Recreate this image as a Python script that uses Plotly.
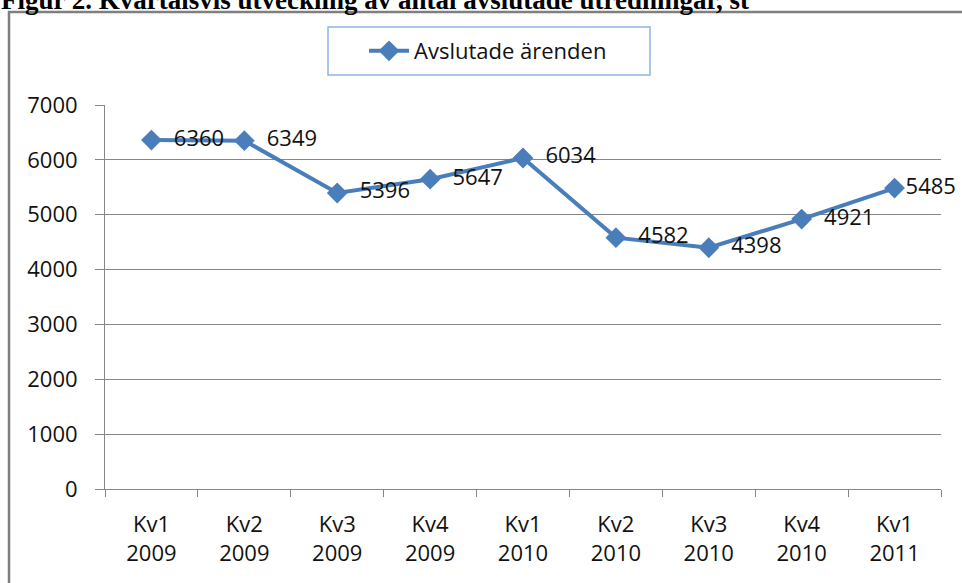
import plotly.graph_objects as go

quarters = ["Kv1", "Kv2", "Kv3", "Kv4", "Kv1", "Kv2", "Kv3", "Kv4", "Kv1"]
years = ["2009", "2009", "2009", "2009", "2010", "2010", "2010", "2010", "2011"]
values = [6360, 6349, 5396, 5647, 6034, 4582, 4398, 4921, 5485]
series_name = "Avslutade ärenden"
title_text = "Figur 2. Kvartalsvis utveckling av antal avslutade utredningar, st"
y_ticks = [0, 1000, 2000, 3000, 4000, 5000, 6000, 7000]

categories = [f"{q}<br>{y}" for q, y in zip(quarters, years)]

W, H = 962, 583
L, R, T, B = 105, 21, 105, 94
PW, PH = W - L - R, H - T - B

def px(x):
    return (x - L) / PW

def py(y):
    return (H - B - y) / PH

FONT = "Open Sans"
BLUE = "#4A7EBB"
GRID = "#868686"
TXT = "#111111"

label_tpl = ["\u00a0\u00a0%{text}"] * (len(values) - 1) + ["%{text}"]

fig = go.Figure()
fig.add_trace(go.Scatter(
    x=categories, y=values, name=series_name,
    mode="lines+markers+text",
    line=dict(color=BLUE, width=4),
    marker=dict(symbol="diamond", size=16, color=BLUE),
    text=[str(v) for v in values],
    texttemplate=label_tpl,
    textposition="middle right",
    textfont=dict(family=FONT, size=22, color=TXT),
    cliponaxis=False,
))

fig.update_layout(
    width=W, height=H,
    margin=dict(l=L, r=R, t=T, b=B),
    paper_bgcolor="white", plot_bgcolor="white",
    font=dict(family=FONT, size=22, color=TXT),
    showlegend=True,
    legend=dict(
        x=px(364), y=py(51), xanchor="left", yanchor="middle",
        orientation="h", bgcolor="rgba(0,0,0,0)", borderwidth=0,
        font=dict(family=FONT, size=22, color=TXT),
        itemwidth=40,
    ),
    xaxis=dict(
        type="category", showgrid=False, showline=True, linecolor=GRID, linewidth=1,
        ticks="outside", ticklen=7, tickcolor=GRID, tickson="boundaries",
        ticklabelstandoff=16, tickfont=dict(family=FONT, size=22, color=TXT),
        range=[-0.5, len(categories) - 0.5], fixedrange=True,
    ),
    yaxis=dict(
        range=[0, 7000], tickvals=y_ticks, ticktext=[str(t) for t in y_ticks],
        showgrid=True, gridcolor=GRID, gridwidth=1,
        showline=True, linecolor=GRID, linewidth=1,
        ticks="outside", ticklen=9, tickcolor=GRID,
        ticklabelstandoff=13, tickfont=dict(family=FONT, size=22, color=TXT),
        zeroline=False,
    ),
    shapes=[
        dict(type="rect", xref="paper", yref="paper",
             x0=px(9), x1=px(975), y0=py(600), y1=py(12),
             line=dict(color="#7F7F7F", width=2.5), fillcolor="rgba(0,0,0,0)", layer="below"),
        dict(type="rect", xref="paper", yref="paper",
             x0=px(328), x1=px(650), y0=py(75), y1=py(27),
             line=dict(color="#8EB4E3", width=1.5), fillcolor="rgba(0,0,0,0)"),
    ],
    annotations=[
        dict(text="<b>" + title_text + "</b>", xref="paper", yref="paper",
             x=px(-1), y=py(17), xanchor="left", yanchor="bottom", showarrow=False,
             font=dict(family="Liberation Serif", size=27, color="#000000")),
    ],
)

fig.write_html("out.html", config={"displayModeBar": False},
               post_script="document.body.style.margin='0';document.body.style.overflow='hidden';")
